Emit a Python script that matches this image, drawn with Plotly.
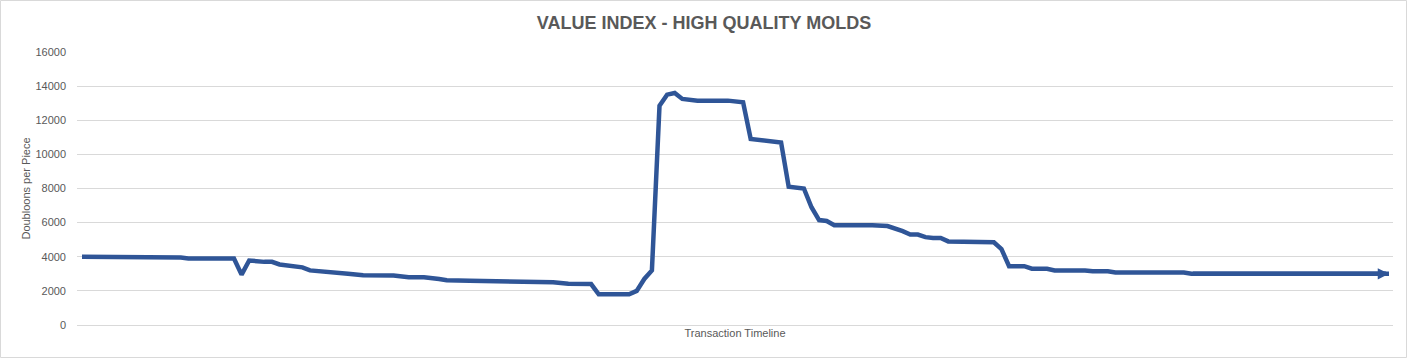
import plotly.graph_objects as go

# Transaction index (timeline position) and value in doubloons per piece, read at the chart's kinks
transaction = [0, 5, 6, 13, 14, 20, 21, 22, 24, 25, 26, 28, 29, 30, 33, 35, 37, 41, 43, 45,
               47, 48, 51, 57, 58, 62, 64, 67, 68, 72, 73, 74, 75, 76, 77, 78, 79, 81, 85, 86,
               87, 88, 91, 92, 93, 95, 96, 97, 98, 99, 104, 106, 108, 109, 110, 111, 112, 113,
               114, 118, 119, 120, 121, 122, 124, 125, 127, 128, 132, 133, 135, 136, 145, 146, 172]
doubloons = [4000, 4000, 3950, 3950, 3900, 3900, 2950, 3780, 3700, 3700, 3550, 3450, 3380, 3200,
             3050, 3000, 2920, 2900, 2800, 2800, 2700, 2620, 2600, 2560, 2500, 2500, 2420, 2400,
             1800, 1800, 2000, 2700, 3200, 12850, 13500, 13600, 13250, 13150, 13150, 13100,
             13050, 10900, 10750, 10700, 8100, 8000, 6900, 6150, 6100, 5850, 5850, 5800, 5500,
             5300, 5300, 5150, 5100, 5100, 4900, 4900, 4850, 4850, 4450, 3450, 3450, 3300, 3300,
             3200, 3200, 3150, 3150, 3080, 3080, 3000, 3000]

y_ticks = [0, 2000, 4000, 6000, 8000, 10000, 12000, 14000, 16000]

TITLE = "VALUE INDEX - HIGH QUALITY MOLDS"
Y_TITLE = "Doubloons per Piece"
X_TITLE = "Transaction Timeline"

LINE_COLOR = "#2F5597"
TEXT_COLOR = "#595959"
GRID_COLOR = "#D9D9D9"
FONT = "Liberation Sans, Arial"

W, H = 1408, 359
L, R, T, B = 77, 15, 52, 34
pw, ph = W - L - R, H - T - B

fig = go.Figure()
fig.add_trace(go.Scatter(
    x=transaction, y=doubloons, mode="lines",
    line=dict(color=LINE_COLOR, width=4.5, shape="linear"),
    hoverinfo="x+y", showlegend=False,
))

# arrow head at the end of the line
fig.add_annotation(
    x=transaction[-1], y=doubloons[-1], xref="x", yref="y",
    ax=transaction[-2], ay=doubloons[-2], axref="x", ayref="y",
    text="", showarrow=True, arrowhead=2, arrowsize=0.5, arrowwidth=4.5,
    arrowcolor=LINE_COLOR, standoff=0,
)

# chart border
fig.add_shape(
    type="rect", xref="paper", yref="paper",
    x0=(0.5 - L) / pw, x1=(W - 1.5 - L) / pw,
    y0=(ph + T - (H - 1.5)) / ph, y1=(ph + T - 0.5) / ph,
    line=dict(color=GRID_COLOR, width=1), fillcolor="rgba(0,0,0,0)", layer="below",
)

fig.update_layout(
    width=W, height=H,
    margin=dict(l=L, r=R, t=T, b=B, autoexpand=False),
    paper_bgcolor="white", plot_bgcolor="white",
    font=dict(family=FONT, color=TEXT_COLOR, size=11),
    title=dict(text="<b>" + TITLE + "</b>", x=0.5, xanchor="center", y=1 - 23 / H, yanchor="middle",
               font=dict(family=FONT, size=18, color=TEXT_COLOR)),
    xaxis=dict(
        range=[transaction[0] - 5 / 7.6, transaction[-1] + 4 / 7.6],
        showgrid=False, zeroline=False, showticklabels=False, ticks="", showline=False,
        title=dict(text=X_TITLE, standoff=4, font=dict(size=11, color=TEXT_COLOR, family=FONT)),
    ),
    yaxis=dict(
        range=[0, 16000], tickvals=y_ticks, ticktext=[str(v) for v in y_ticks],
        showgrid=True, gridcolor=GRID_COLOR, gridwidth=1,
        zeroline=True, zerolinecolor=GRID_COLOR, zerolinewidth=1, showline=False,
        ticks="", ticklabelstandoff=10,
        tickfont=dict(size=11, color=TEXT_COLOR, family=FONT),
        title=dict(text=Y_TITLE, standoff=2, font=dict(size=11, color=TEXT_COLOR, family=FONT)),
    ),
)

fig.write_html("out.html", config={"displayModeBar": False},
               post_script="document.body.style.margin='0';")
